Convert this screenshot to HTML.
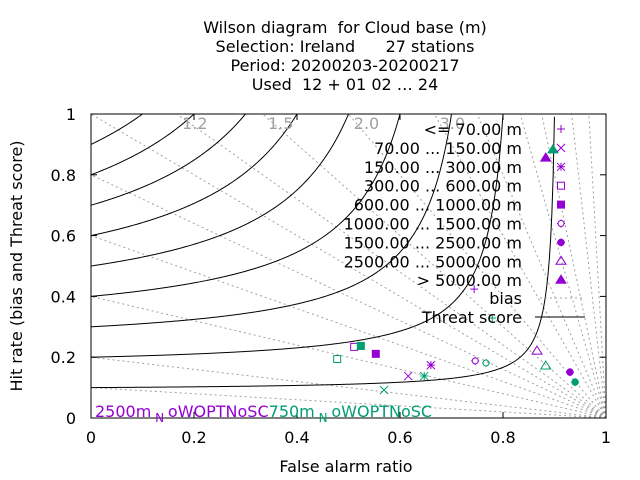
<!DOCTYPE html>
<html><head><meta charset="utf-8"><style>
body{margin:0;background:#fff}
svg{display:block;font-family:"DejaVu Sans","Liberation Sans",sans-serif}
text{white-space:pre}
</style></head><body>
<svg id="c" width="640" height="480" xmlns="http://www.w3.org/2000/svg" xml:space="preserve">
<defs><clipPath id="clip"><rect x="91" y="114" width="515" height="304"/></clipPath></defs>
<g font-size="16" text-anchor="middle" fill="#000">
<text x="345" y="33">Wilson diagram  for Cloud base (m)</text>
<text x="345" y="52">Selection: Ireland      27 stations</text>
<text x="345" y="71">Period: 20200203-20200217</text>
<text x="345" y="90">Used  12 + 01 02 … 24</text>
</g>
<g id="grid" clip-path="url(#clip)"></g>
<g id="marks"></g>
<g id="axes"></g>
</svg>
<script>
const biasValues=[0.1,0.2,0.4,0.6,0.8,1,1.2,1.5,2,3,4,6,8,15,30];
const biasLabels=["1.2","1.5","2.0","3.0"];
const biasLabelVals=[1.2,1.5,2,3];
const threatValues=[0.1,0.2,0.3,0.4,0.5,0.6,0.7,0.8,0.9];
const xTicks=[0,0.2,0.4,0.6,0.8,1];
const yTicks=[0,0.2,0.4,0.6,0.8,1];
const classes=["<= 70.00 m","70.00 ... 150.00 m","150.00 ... 300.00 m","300.00 ... 600.00 m","600.00 ... 1000.00 m","1000.00 ... 1500.00 m","1500.00 ... 2500.00 m","2500.00 ... 5000.00 m","> 5000.00 m"];
const symbols=["plus","cross","star","sq","fsq","circ","fcirc","tri","ftri"];
const purpleFAR=[0.744,0.616,0.660,0.511,0.553,0.746,0.930,0.866,0.883];
const purplePOD=[0.424,0.138,0.174,0.234,0.211,0.188,0.151,0.220,0.855];
const greenFAR=[0.779,0.569,0.647,0.478,0.524,0.767,0.940,0.883,0.897];
const greenPOD=[0.329,0.092,0.138,0.194,0.237,0.181,0.118,0.171,0.882];

const NS="http://www.w3.org/2000/svg";
const X0=91,X1=606,Y0=418,Y1=114;
const FS=16;
const sx=v=>X0+v*(X1-X0), sy=v=>Y0-v*(Y0-Y1);
function mk(tag,attrs,parent){const e=document.createElementNS(NS,tag);for(const k in attrs)e.setAttribute(k,attrs[k]);parent.appendChild(e);return e;}
const grid=document.getElementById('grid'),marks=document.getElementById('marks'),axes=document.getElementById('axes');
biasValues.forEach(b=>{
  const l=mk('line',{x1:sx(1),y1:sy(0),x2:sx(0),y2:sy(b),stroke:'#a0a0a0','stroke-width':1,'stroke-dasharray':'2,3'},grid);
  
  
});
threatValues.forEach(t=>{
  let d='';
  for(let i=0;i<=400;i++){const f=i/400*0.9999;const inv=1/t-1/(1-f)+1;if(inv<=1)break;const p=1/inv;d+=(d?'L':'M')+sx(f).toFixed(2)+','+sy(p).toFixed(2);}
  const p=mk('path',{d:d,fill:'none',stroke:'#000','stroke-width':1},grid);
  
  
});
biasLabelVals.forEach((b,i)=>{
  const t=mk('text',{x:sx(1-1/b)+18,y:129,'font-size':FS,fill:'#a0a0a0','text-anchor':'middle'},axes);
  t.textContent=biasLabels[i];
  
  
});
const fr=mk('rect',{x:X0,y:Y1,width:X1-X0,height:Y0-Y1,fill:'none',stroke:'#000','stroke-width':1},axes);


xTicks.forEach(v=>{
  mk('line',{x1:sx(v),y1:Y0,x2:sx(v),y2:Y0-6,stroke:'#000'},axes);
  mk('line',{x1:sx(v),y1:Y1,x2:sx(v),y2:Y1+6,stroke:'#000'},axes);
  const t=mk('text',{x:sx(v),y:443,'font-size':FS,'text-anchor':'middle'},axes);
  t.textContent=String(v);
  
  
});
yTicks.forEach(v=>{
  mk('line',{x1:X0,y1:sy(v),x2:X0+6,y2:sy(v),stroke:'#000'},axes);
  mk('line',{x1:X1,y1:sy(v),x2:X1-6,y2:sy(v),stroke:'#000'},axes);
  const t=mk('text',{x:76,y:sy(v)+6,'font-size':FS,'text-anchor':'end'},axes);
  t.textContent=String(v);
  
  
});
const xt=mk('text',{x:346,y:472,'font-size':FS,'text-anchor':'middle'},axes);xt.textContent='False alarm ratio';


const yt=mk('text',{x:22,y:266,'font-size':FS,'text-anchor':'middle',transform:'rotate(-90 22 266)'},axes);yt.textContent='Hit rate (bias and Threat score)';



function sym(kind,x,y,col,parent){
  const g=mk('g',{stroke:col,fill:'none','stroke-width':1},parent);const s=4;
  if(kind==='plus'){mk('path',{d:`M${x-s},${y}H${x+s}M${x},${y-s}V${y+s}`},g);}
  else if(kind==='cross'){mk('path',{d:`M${x-s},${y-s}L${x+s},${y+s}M${x-s},${y+s}L${x+s},${y-s}`},g);}
  else if(kind==='star'){mk('path',{d:`M${x-s},${y}H${x+s}M${x},${y-s}V${y+s}M${x-s},${y-s}L${x+s},${y+s}M${x-s},${y+s}L${x+s},${y-s}`},g);}
  else if(kind==='sq'){mk('rect',{x:x-3.5,y:y-3.5,width:7,height:7},g);}
  else if(kind==='fsq'){mk('rect',{x:x-3.5,y:y-3.5,width:7,height:7,fill:col},g);}
  else if(kind==='circ'){mk('circle',{cx:x,cy:y,r:3},g);mk('path',{d:`M${x-4},${y}H${x-3}M${x+3},${y}H${x+4}M${x},${y-4}V${y-3}M${x},${y+3}V${y+4}`},g);}
  else if(kind==='fcirc'){mk('circle',{cx:x,cy:y,r:3.2,fill:col},g);mk('path',{d:`M${x-4},${y}H${x+4}M${x},${y-4}V${y+4}`},g);}
  else if(kind==='tri'){mk('path',{d:`M${x},${y-5}L${x+5},${y+3}L${x-5},${y+3}Z`},g);}
  else if(kind==='ftri'){mk('path',{d:`M${x},${y-5}L${x+5},${y+3}L${x-5},${y+3}Z`,fill:col},g);}
  return g;
}
const P='#9400d3',G='#009e73';
symbols.forEach((k,i)=>{
  const a=sym(k,sx(purpleFAR[i]),sy(purplePOD[i]),P,marks);
  
  
  const b=sym(k,sx(greenFAR[i]),sy(greenPOD[i]),G,marks);
  
  
});
const leg=mk('g',{},axes);


classes.forEach((c,i)=>{
  const y=129+i*18.9;
  const t=mk('text',{x:522,y:y+6,'font-size':FS,'text-anchor':'end'},leg);t.textContent=c;
  
  
  sym(symbols[i],561,y,P,leg);
});
const tb=mk('text',{x:522,y:304,'font-size':FS,'text-anchor':'end'},leg);tb.textContent='bias';


mk('line',{x1:540,y1:298,x2:585,y2:298,stroke:'#a0a0a0','stroke-dasharray':'2,3'},leg);
const tt=mk('text',{x:522,y:323,'font-size':FS,'text-anchor':'end'},leg);tt.textContent='Threat score';


mk('line',{x1:535,y1:317,x2:585,y2:317,stroke:'#000'},leg);
const sl=mk('text',{x:95,y:417,'font-size':FS},axes);


sl.innerHTML='<tspan fill="#9400d3">2500m</tspan><tspan fill="#9400d3" dy="5" font-size="12"> N </tspan><tspan fill="#9400d3" dy="-5">oWOPTNoSC</tspan><tspan fill="#009e73">750m</tspan><tspan fill="#009e73" dy="5" font-size="12"> N </tspan><tspan fill="#009e73" dy="-5">oWOPTNoSC</tspan>';
</script>
</body></html>
